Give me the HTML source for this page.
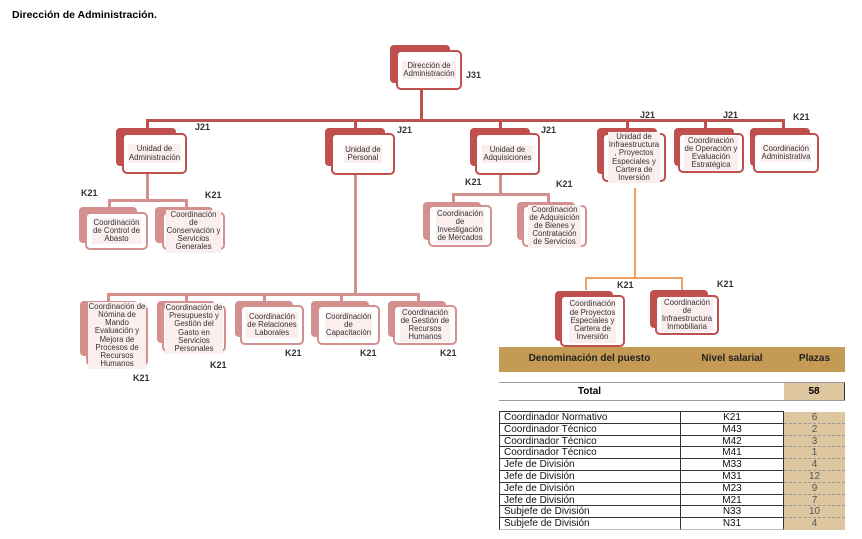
<!DOCTYPE html>
<html><head><meta charset="utf-8"><style>
body{margin:0;width:862px;height:539px;background:#fff;position:relative;overflow:hidden;font-family:"Liberation Sans",sans-serif}
.a{position:absolute}
.bk{position:absolute;border-radius:4px}
.fr{position:absolute;background:#fff;border:2px solid #c0504d;border-radius:5px;box-sizing:border-box;display:flex;align-items:center;justify-content:center;text-align:center;font-size:7.8px;line-height:8.2px;color:#333;white-space:nowrap}
.fr span{background:#fbeeee;padding:1px 1px}
.p{border-color:#d48f8f}
.l{position:absolute;background:#c0504d}
.lp{position:absolute;background:#d48f8f}
.lo{position:absolute;background:#f0a060}
.k{position:absolute;font-size:9px;font-weight:bold;color:#333}
.r{position:absolute;left:499px;width:346px;height:11.8px;font-size:10px;line-height:11.8px;color:#111}
.r div{position:absolute;top:0;height:11.8px;box-sizing:border-box}
.c1{left:0;width:181px;border-left:1px solid #333;border-bottom:1px solid #333;padding-left:4px}
.c2{left:181px;width:104px;border-left:1px solid #333;border-right:1px solid #333;border-bottom:1px solid #333;text-align:center}
.c3{left:285px;width:61px;background:#dec6a0;text-align:center;color:#555;border-bottom:1px dashed #999}
</style></head><body>
<div class="a" style="left:12px;top:9px;font-size:10.5px;font-weight:bold">Dirección de Administración.</div>

<div class="l" style="left:420px;top:89px;width:3px;height:33px"></div>
<div class="l" style="left:146px;top:119px;width:639px;height:3px"></div>
<div class="l" style="left:146px;top:119px;width:3px;height:10px"></div>
<div class="l" style="left:354px;top:119px;width:3px;height:10px"></div>
<div class="l" style="left:499px;top:119px;width:3px;height:10px"></div>
<div class="l" style="left:626px;top:119px;width:3px;height:10px"></div>
<div class="l" style="left:704px;top:119px;width:3px;height:10px"></div>
<div class="l" style="left:782px;top:119px;width:3px;height:10px"></div>

<div class="lp" style="left:146px;top:173px;width:3px;height:28px"></div>
<div class="lp" style="left:108px;top:199px;width:80px;height:3px"></div>
<div class="lp" style="left:108px;top:199px;width:3px;height:8px"></div>
<div class="lp" style="left:185px;top:199px;width:3px;height:8px"></div>

<div class="lp" style="left:354px;top:174px;width:3px;height:122px"></div>
<div class="lp" style="left:107px;top:293px;width:313px;height:3px"></div>
<div class="lp" style="left:107px;top:293px;width:3px;height:9px"></div>
<div class="lp" style="left:185px;top:293px;width:3px;height:9px"></div>
<div class="lp" style="left:263px;top:293px;width:3px;height:9px"></div>
<div class="lp" style="left:340px;top:293px;width:3px;height:9px"></div>
<div class="lp" style="left:417px;top:293px;width:3px;height:9px"></div>

<div class="lp" style="left:499px;top:174px;width:3px;height:22px"></div>
<div class="lp" style="left:452px;top:193px;width:98px;height:3px"></div>
<div class="lp" style="left:452px;top:193px;width:3px;height:9px"></div>
<div class="lp" style="left:547px;top:193px;width:3px;height:9px"></div>

<div class="lo" style="left:634px;top:188px;width:2px;height:90px"></div>
<div class="lo" style="left:585px;top:277px;width:98px;height:2px"></div>
<div class="lo" style="left:585px;top:277px;width:2px;height:13px"></div>
<div class="lo" style="left:681px;top:277px;width:2px;height:13px"></div>

<div class="bk" style="left:390px;top:45px;width:60px;height:38px;background:#c0504d"></div>
<div class="fr" style="left:396px;top:50px;width:66px;height:40px"><span>Dirección de<br>Administración</span></div>
<div class="k" style="left:466px;top:70px">J31</div>

<div class="bk" style="left:116px;top:128px;width:60px;height:38px;background:#c0504d"></div>
<div class="fr" style="left:122px;top:133px;width:65px;height:41px"><span>Unidad de<br>Administración</span></div>
<div class="k" style="left:195px;top:122px">J21</div>

<div class="bk" style="left:325px;top:128px;width:60px;height:38px;background:#c0504d"></div>
<div class="fr" style="left:331px;top:133px;width:64px;height:42px"><span>Unidad de<br>Personal</span></div>
<div class="k" style="left:397px;top:125px">J21</div>

<div class="bk" style="left:470px;top:128px;width:60px;height:38px;background:#c0504d"></div>
<div class="fr" style="left:475px;top:133px;width:65px;height:42px"><span>Unidad de<br>Adquisiciones</span></div>
<div class="k" style="left:541px;top:125px">J21</div>

<div class="bk" style="left:597px;top:128px;width:60px;height:46px;background:#c0504d"></div>
<div class="fr" style="left:602px;top:133px;width:64px;height:49px"><span>Unidad de<br>Infraestructura<br>, Proyectos<br>Especiales y<br>Cartera de<br>Inversión</span></div>
<div class="k" style="left:640px;top:110px">J21</div>

<div class="bk" style="left:674px;top:128px;width:60px;height:38px;background:#c0504d"></div>
<div class="fr" style="left:678px;top:133px;width:66px;height:40px"><span>Coordinación<br>de Operación y<br>Evaluación<br>Estratégica</span></div>
<div class="k" style="left:723px;top:110px">J21</div>

<div class="bk" style="left:750px;top:128px;width:60px;height:38px;background:#c0504d"></div>
<div class="fr" style="left:753px;top:133px;width:66px;height:40px"><span>Coordinación<br>Administrativa</span></div>
<div class="k" style="left:793px;top:112px">K21</div>

<div class="bk" style="left:79px;top:207px;width:58px;height:36px;background:#d48f8f"></div>
<div class="fr p" style="left:85px;top:212px;width:63px;height:38px"><span>Coordinación<br>de Control de<br>Abasto</span></div>
<div class="k" style="left:81px;top:188px">K21</div>
<div class="bk" style="left:155px;top:207px;width:58px;height:36px;background:#d48f8f"></div>
<div class="fr p" style="left:162px;top:212px;width:63px;height:38px"><span>Coordinación<br>de<br>Conservación y<br>Servicios<br>Generales</span></div>
<div class="k" style="left:205px;top:190px">K21</div>

<div class="bk" style="left:423px;top:202px;width:58px;height:38px;background:#d48f8f"></div>
<div class="fr p" style="left:428px;top:205px;width:64px;height:42px"><span>Coordinación<br>de<br>Investigación<br>de Mercados</span></div>
<div class="k" style="left:465px;top:177px">K21</div>
<div class="bk" style="left:517px;top:202px;width:58px;height:38px;background:#d48f8f"></div>
<div class="fr p" style="left:522px;top:205px;width:65px;height:42px"><span>Coordinación<br>de Adquisición<br>de Bienes y<br>Contratación<br>de Servicios</span></div>
<div class="k" style="left:556px;top:179px">K21</div>

<div class="bk" style="left:80px;top:301px;width:58px;height:55px;background:#d48f8f"></div>
<div class="fr p" style="left:86px;top:305px;width:62px;height:61px"><span>Coordinación de<br>Nómina de<br>Mando<br>Evaluación y<br>Mejora de<br>Procesos de<br>Recursos<br>Humanos</span></div>
<div class="k" style="left:133px;top:373px">K21</div>
<div class="bk" style="left:157px;top:301px;width:58px;height:42px;background:#d48f8f"></div>
<div class="fr p" style="left:162px;top:305px;width:64px;height:47px"><span>Coordinación de<br>Presupuesto y<br>Gestión del<br>Gasto en<br>Servicios<br>Personales</span></div>
<div class="k" style="left:210px;top:360px">K21</div>
<div class="bk" style="left:235px;top:301px;width:58px;height:36px;background:#d48f8f"></div>
<div class="fr p" style="left:240px;top:305px;width:64px;height:40px"><span>Coordinación<br>de Relaciones<br>Laborales</span></div>
<div class="k" style="left:285px;top:348px">K21</div>
<div class="bk" style="left:311px;top:301px;width:58px;height:36px;background:#d48f8f"></div>
<div class="fr p" style="left:317px;top:305px;width:63px;height:40px"><span>Coordinación<br>de<br>Capacitación</span></div>
<div class="k" style="left:360px;top:348px">K21</div>
<div class="bk" style="left:388px;top:301px;width:58px;height:36px;background:#d48f8f"></div>
<div class="fr p" style="left:393px;top:305px;width:64px;height:40px"><span>Coordinación<br>de Gestión de<br>Recursos<br>Humanos</span></div>
<div class="k" style="left:440px;top:348px">K21</div>

<div class="bk" style="left:555px;top:291px;width:58px;height:50px;background:#c0504d"></div>
<div class="fr" style="left:560px;top:295px;width:65px;height:52px"><span>Coordinación<br>de Proyectos<br>Especiales y<br>Cartera de<br>Inversión</span></div>
<div class="k" style="left:617px;top:280px">K21</div>
<div class="bk" style="left:650px;top:290px;width:58px;height:38px;background:#c0504d"></div>
<div class="fr" style="left:655px;top:295px;width:64px;height:40px"><span>Coordinación<br>de<br>Infraestructura<br>Inmobiliaria</span></div>
<div class="k" style="left:717px;top:279px">K21</div>

<div class="a" style="left:499px;top:347px;width:346px;height:25px;background:#c49a55;font-size:10px;font-weight:bold;color:#222">
<div class="a" style="left:0;width:181px;top:6px;text-align:center">Denominación del puesto</div>
<div class="a" style="left:181px;width:104px;top:6px;text-align:center">Nivel salarial</div>
<div class="a" style="left:285px;width:61px;top:6px;text-align:center">Plazas</div>
</div>
<div class="a" style="left:499px;top:382px;width:346px;height:17px;border-top:1px solid #999;border-bottom:1px solid #999;font-size:10px;font-weight:bold">
<div class="a" style="left:0;width:181px;top:3px;text-align:center">Total</div>
<div class="a" style="left:285px;width:60px;top:0;height:17px;background:#dec6a0;border-right:1px solid #333;text-align:center;line-height:17px">58</div>
</div>
<div class="a" style="left:499px;top:411px;width:285px;height:1px;background:#333"></div>
<div class="r" style="top:412px"><div class="c1">Coordinador Normativo</div><div class="c2">K21</div><div class="c3">6</div></div>
<div class="r" style="top:423.8px"><div class="c1">Coordinador Técnico</div><div class="c2">M43</div><div class="c3">2</div></div>
<div class="r" style="top:435.6px"><div class="c1">Coordinador Técnico</div><div class="c2">M42</div><div class="c3">3</div></div>
<div class="r" style="top:447.4px"><div class="c1">Coordinador Técnico</div><div class="c2">M41</div><div class="c3">1</div></div>
<div class="r" style="top:459.2px"><div class="c1">Jefe de División</div><div class="c2">M33</div><div class="c3">4</div></div>
<div class="r" style="top:471px"><div class="c1">Jefe de División</div><div class="c2">M31</div><div class="c3">12</div></div>
<div class="r" style="top:482.8px"><div class="c1">Jefe de División</div><div class="c2">M23</div><div class="c3">9</div></div>
<div class="r" style="top:494.6px"><div class="c1">Jefe de División</div><div class="c2">M21</div><div class="c3">7</div></div>
<div class="r" style="top:506.4px"><div class="c1">Subjefe de División</div><div class="c2">N33</div><div class="c3">10</div></div>
<div class="r" style="top:518.2px"><div class="c1" style="border-bottom-color:#bbb">Subjefe de División</div><div class="c2" style="border-bottom-color:#bbb">N31</div><div class="c3" style="border-bottom:none">4</div></div>
</body></html>
